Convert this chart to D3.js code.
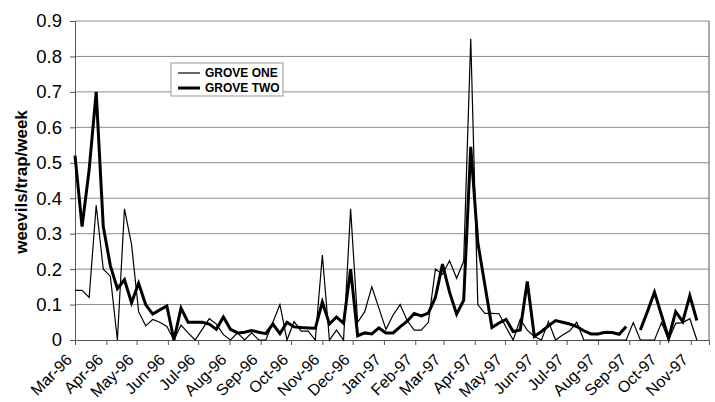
<!DOCTYPE html>
<html>
<head>
<meta charset="utf-8">
<script src="https://cdn.jsdelivr.net/npm/d3@7"></script>
<style>
  body { margin: 0; background: #fff; }
  #chart { width: 715px; height: 402px; }
  text { font-family: "Liberation Sans", Arial, sans-serif; fill: #000; }
</style>
</head>
<body>
<div id="chart"></div>
<script>
// weekly trap counts, first week = Mar-96
const startDate = new Date(1996, 2, 1);
const endDate = new Date(1997, 10, 19);
const monthLabels = ["Mar-96", "Apr-96", "May-96", "Jun-96", "Jul-96", "Aug-96", "Sep-96",
  "Oct-96", "Nov-96", "Dec-96", "Jan-97", "Feb-97", "Mar-97", "Apr-97", "May-97", "Jun-97",
  "Jul-97", "Aug-97", "Sep-97", "Oct-97", "Nov-97"];
const yTicks = [0, 0.1, 0.2, 0.3, 0.4, 0.5, 0.6, 0.7, 0.8, 0.9];
const seriesNames = ["GROVE ONE", "GROVE TWO"];

const groveOne = [0.14, 0.14, 0.12, 0.38, 0.20, 0.18, 0, 0.37, 0.27, 0.08,
  0.04, 0.058, 0.05, 0.038, 0, 0.042, 0.02, 0, 0.03, 0.06,
  0.045, 0.015, 0, 0.02, 0, 0.02, 0, 0, 0.05, 0.1,
  0, 0.052, 0.025, 0.025, 0, 0.24, 0, 0.028, 0, 0.37,
  0.05, 0.08, 0.15, 0.09, 0.03, 0.07, 0.1, 0.055, 0.028, 0.028,
  0.05, 0.2, 0.185, 0.224, 0.174, 0.222, 0.85, 0.1, 0.075, 0.075,
  0.074, 0.036, 0, 0.058, 0.028, 0.01, 0, 0.052, 0, 0.014,
  0.026, 0.05, 0, 0, 0, 0, 0, 0, 0, 0.049,
  0, 0, 0, 0.049, 0, 0.047, 0.049, 0.06, 0];

const groveTwo = [0.52, 0.32, 0.48, 0.70, 0.32, 0.21, 0.145, 0.17, 0.105, 0.16,
  0.1, 0.073, 0.085, 0.096, 0, 0.09, 0.05, 0.05, 0.05, 0.045,
  0.03, 0.065, 0.03, 0.02, 0.022, 0.027, 0.022, 0.018, 0.045, 0.018,
  0.05, 0.037, 0.035, 0.034, 0.033, 0.107, 0.045, 0.065, 0.047, 0.2,
  0.012, 0.02, 0.017, 0.034, 0.02, 0.02, 0.037, 0.053, 0.075, 0.068,
  0.076, 0.12, 0.214, 0.135, 0.073, 0.112, 0.545, 0.275, 0.155, 0.035,
  0.048, 0.058, 0.024, 0.028, 0.165, 0.01, 0.024, 0.04, 0.055, 0.05,
  0.045, 0.038, 0.026, 0.017, 0.017, 0.022, 0.021, 0.016, 0.038, null,
  0.028, 0.08, 0.135, 0.07, 0.005, 0.08, 0.052, 0.125, 0.055];

let w = 715, h = 402;
let padL = 75, padR = 709, padT = 21, padB = 340;

var svg = d3.select("#chart").append("svg")
  .attr("width", w)
  .attr("height", h);

var x = d3.scaleTime().domain([startDate, endDate]).range([padL, padR]);
var y = d3.scaleLinear().domain([0, 0.9]).range([padB, padT]);

// gridlines
svg.append("g")
  .selectAll("line")
  .data(yTicks.slice(1))
  .join("line")
  .attr("x1", padL).attr("x2", padR)
  .attr("y1", d => y(d)).attr("y2", d => y(d))
  .attr("stroke", "#8c8c8c")
  .attr("stroke-width", 1);

// right border
svg.append("line")
  .attr("x1", padR).attr("x2", padR)
  .attr("y1", y(0.9)).attr("y2", y(0))
  .attr("stroke", "#555");

// y axis
var yAxis = svg.append("g")
  .attr("transform", "translate(" + padL + ",0)")
  .call(d3.axisLeft(y).tickValues(yTicks).tickFormat(d3.format("")).tickSize(5).tickPadding(8));
yAxis.select(".domain").attr("stroke", "#555");
yAxis.selectAll(".tick line").attr("stroke", "#555");
yAxis.selectAll("text").attr("font-size", 18.5).attr("fill", "#000");

// x axis
var months = d3.timeMonth.range(startDate, endDate);
var xAxis = svg.append("g")
  .attr("transform", "translate(0," + padB + ")")
  .call(d3.axisBottom(x).tickValues(months).tickFormat((d, i) => monthLabels[i]).tickSize(5));
xAxis.select(".domain").attr("stroke", "#555");
xAxis.selectAll(".tick line").attr("stroke", "#555");
xAxis.selectAll("text")
  .attr("font-size", 16)
  .attr("fill", "#000")
  .attr("text-anchor", "end")
  .attr("dy", "0.35em")
  .attr("transform", "translate(-12,11) rotate(-45)");

// y title
svg.append("text")
  .attr("transform", "translate(27,182) rotate(-90)")
  .attr("text-anchor", "middle")
  .attr("font-size", 17)
  .attr("font-weight", "bold")
  .text("weevils/trap/week");

// lines
var dates = groveOne.map((d, i) => d3.timeDay.offset(startDate, 7 * i));
var line = d3.line()
  .defined(d => d[1] != null)
  .x(d => x(d[0]))
  .y(d => y(d[1]));

svg.append("path")
  .attr("d", line(d3.zip(dates, groveOne)))
  .attr("fill", "none")
  .attr("stroke", "#000")
  .attr("stroke-width", 1.2)
  .attr("stroke-linejoin", "miter");

svg.append("path")
  .attr("d", line(d3.zip(dates, groveTwo)))
  .attr("fill", "none")
  .attr("stroke", "#000")
  .attr("stroke-width", 3)
  .attr("stroke-linejoin", "miter");

// legend
var lg = svg.append("g").attr("transform", "translate(171,63)");
lg.append("rect")
  .attr("width", 112).attr("height", 33)
  .attr("fill", "#fff")
  .attr("stroke", "#999");
seriesNames.forEach((name, i) => {
  let ly = 10 + i * 15;
  lg.append("line")
    .attr("x1", 7).attr("x2", 29)
    .attr("y1", ly).attr("y2", ly)
    .attr("stroke", "#000")
    .attr("stroke-width", i == 0 ? 1.2 : 3);
  lg.append("text")
    .attr("x", 34).attr("y", ly)
    .attr("dy", "0.35em")
    .attr("font-size", 12)
    .attr("font-weight", "bold")
    .text(name);
});
</script>
</body>
</html>
